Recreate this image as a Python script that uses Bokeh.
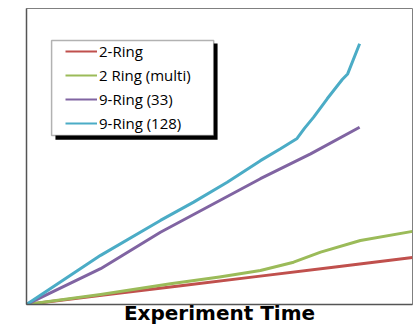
from bokeh.plotting import figure
from bokeh.models import Range1d, Legend, LegendItem, BoxAnnotation, FixedTicker
from bokeh.embed import file_html
from bokeh.resources import INLINE

# Experiment time (0-100, arbitrary units) and measured values (0-100 scale)
red_x = [0, 20, 40, 60, 80, 100]
red_y = [0, 3.2, 6.3, 9.5, 12.7, 15.9]

green_x = [0, 19.2, 37.3, 50.0, 60.6, 69.2, 76.2, 86.5, 100]
green_y = [0, 3.4, 7.0, 9.3, 11.5, 14.3, 17.7, 21.6, 24.7]

purple_x = [0, 19.2, 34.7, 60.6, 73.6, 86.3]
purple_y = [0, 12.1, 24.4, 42.5, 50.9, 59.9]

cyan_x = [0, 19.2, 34.7, 43.3, 52.0, 60.6, 65.8, 70.1, 72.0, 74.4, 77.9, 81.8, 83.2, 86.3]
cyan_y = [0, 16.6, 28.4, 34.6, 41.3, 48.6, 52.6, 56.1, 59.5, 63.3, 69.5, 76.0, 77.9, 88.1]

series_names = ["2-Ring", "2 Ring (multi)", "9-Ring (33)", "9-Ring (128)"]
series_colors = ["#C0504D", "#9BBB59", "#8064A2", "#4BACC6"]
x_title = "Experiment Time"

p = figure(width=414, height=327, output_backend="svg", toolbar_location=None,
           x_range=Range1d(0, 100), y_range=Range1d(0, 100))
p.title.visible = False
p.min_border_left = 26
p.min_border_right = 2
p.min_border_top = 8
p.min_border_bottom = 0
p.outline_line_color = "#808080"
p.outline_line_width = 1
p.background_fill_color = "white"
p.border_fill_color = "white"
p.xgrid.visible = False
p.ygrid.visible = False

for ax in (p.xaxis[0], p.yaxis[0]):
    ax.ticker = FixedTicker(ticks=[])
    ax.major_tick_line_color = None
    ax.minor_tick_line_color = None
    ax.major_tick_out = 0
    ax.major_tick_in = 0
    ax.minor_tick_out = 0
    ax.minor_tick_in = 0
    ax.major_label_standoff = 0
    ax.axis_line_color = "#555555"
    ax.axis_line_width = 1.5

p.xaxis.axis_label = x_title
p.xaxis.axis_label_text_font = "DejaVu Sans"
p.xaxis.axis_label_text_font_style = "bold"
p.xaxis.axis_label_text_font_size = "20px"
p.xaxis.axis_label_text_color = "black"
p.xaxis.axis_label_standoff = -4
p.xaxis.axis_label_text_line_height = 0.85

renderers = []
for xs, ys, c in [(red_x, red_y, series_colors[0]), (green_x, green_y, series_colors[1]),
                  (purple_x, purple_y, series_colors[2]), (cyan_x, cyan_y, series_colors[3])]:
    r = p.line(xs, ys, line_color=c, line_width=3, line_join="round")
    renderers.append(r)

# thinner legend swatches (no visible data)
nan = float("nan")
swatches = [p.line([nan], [nan], line_color=c, line_width=2) for c in series_colors]

# legend box with drop shadow
shadow = BoxAnnotation(left=7.5, right=49.5, top=88.2, bottom=55.7,
                       fill_color="black", fill_alpha=1, line_color=None, level="overlay")
box = BoxAnnotation(left=6.5, right=48.5, top=89.2, bottom=57.1,
                    fill_color="white", fill_alpha=1, line_color="black", line_width=1.5,
                    level="overlay")
p.add_layout(shadow)
p.add_layout(box)

legend = Legend(items=[LegendItem(label=n, renderers=[r]) for n, r in zip(series_names, swatches)],
                location=(39, 171), orientation="vertical",
                border_line_color=None, background_fill_alpha=0,
                padding=0, margin=0, spacing=4,
                glyph_width=32, glyph_height=20, label_height=20, label_standoff=2,
                label_text_font="Open Sans", label_text_font_size="15px", label_text_color="black")
p.add_layout(legend, "center")

open("out.html", "w").write(file_html(p, INLINE))
